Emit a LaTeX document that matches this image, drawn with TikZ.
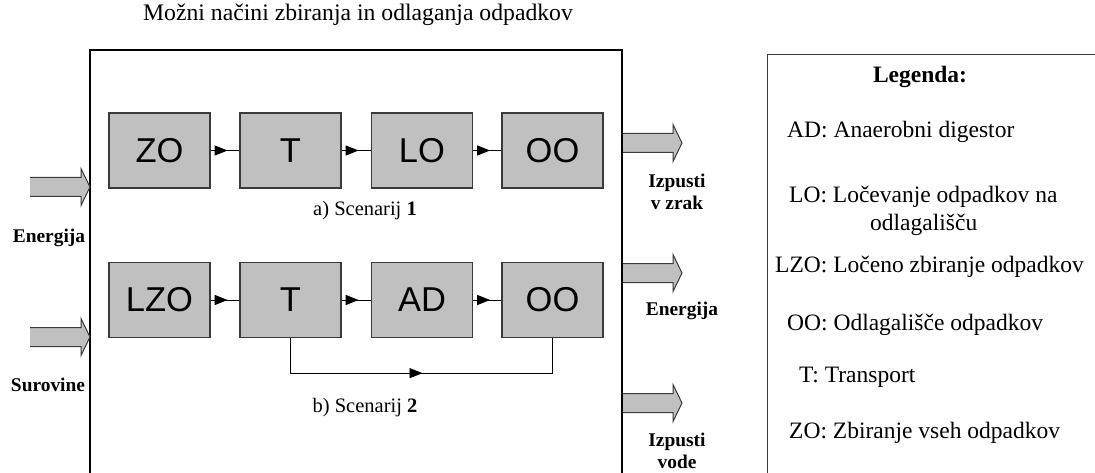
\documentclass[tikz,border=0pt]{standalone}
\usepackage{fontspec}
\setmainfont{Liberation Serif}
\setsansfont{Liberation Sans}
\usetikzlibrary{arrows.meta,decorations.markings}
\definecolor{boxgray}{HTML}{C0C0C0}
\definecolor{edgegray}{HTML}{3A3A3A}

% wide gray flow arrow: #1 left end x, #2 centre y, #3 tip x
\newcommand\flowarrow[3]{%
  \fill[boxgray] (#1,#2-9.5) -- (#3-9,#2-9.5) -- (#3-9,#2-18.5) -- (#3,#2)
    -- (#3-9,#2+18.5) -- (#3-9,#2+9.5) -- (#1,#2+9.5) -- cycle;
  \draw[edgegray, line width=1, line join=miter] (#1,#2-9.5) -- (#3-9,#2-9.5) -- (#3-9,#2-18.5) -- (#3,#2)
    -- (#3-9,#2+18.5) -- (#3-9,#2+9.5) -- (#1,#2+9.5);}

\tikzset{
  stage/.style={draw=edgegray, line width=1.3, fill=boxgray, minimum width=101,
    minimum height=75, inner sep=0, font=\sffamily\fontsize{34.5}{40}\selectfont},
  flow/.style={line width=1, postaction={decorate},
    decoration={markings, mark=at position 17pt with {\arrow{Triangle[length=13pt,width=10pt]}}}},
  bypass/.style={line width=0.8, postaction={decorate},
    decoration={markings, mark=at position 167pt with {\arrow{Triangle[length=13pt,width=10pt]}}}},
  iolabel/.style={font=\bfseries\fontsize{19.4}{22}\selectfont, align=center, inner sep=0},
  caption/.style={font=\fontsize{20.5}{24}\selectfont, inner sep=0},
  legtext/.style={font=\fontsize{23.5}{28}\selectfont, anchor=west, inner sep=0, align=left},
}

\begin{document}
\begin{tikzpicture}[x=1pt,y=-1pt]
  \useasboundingbox (0,0) rectangle (1095,473);
  \clip (0,0) rectangle (1095,473);

  % title and system boundary
  \node[font=\fontsize{23.7}{28}\selectfont, inner sep=0] (title) at (358,15)
    {Možni načini zbiranja in odlaganja odpadkov};
  \draw[line width=2] (90,490) -- (90,50) -- (622,50) -- (622,490);

  % scenario a
  \node[stage] (zo)  at (159.5,150.5) {ZO};
  \node[stage] (t1)  at (290.5,150.5) {T};
  \node[stage] (lo)  at (422,150.5)   {LO};
  \node[stage] (oo1) at (552.5,150.5) {OO};
  \draw[flow] (zo.east) -- (t1.west);
  \draw[flow] (t1.east) -- (lo.west);
  \draw[flow] (lo.east) -- (oo1.west);
  \node[caption] (capa) at (365,211) {a) Scenarij \textbf{1}};

  % scenario b
  \node[stage] (lzo) at (159.5,300) {LZO};
  \node[stage] (t2)  at (290.5,300) {T};
  \node[stage] (ad)  at (422,300)   {AD};
  \node[stage] (oo2) at (552.5,300) {OO};
  \draw[flow] (lzo.east) -- (t2.west);
  \draw[flow] (t2.east) -- (ad.west);
  \draw[flow] (ad.east) -- (oo2.west);
  \draw[bypass] (t2.south) -- ++(0,35) -| (oo2.south);
  \node[caption] (capb) at (365,408) {b) Scenarij \textbf{2}};

  % inputs
  \flowarrow{30}{187}{90}
  \flowarrow{30}{337}{90}
  \node[iolabel] (inen)  at (49,238) {Energija};
  \node[iolabel] (insur) at (48,385) {Surovine};

  % outputs
  \flowarrow{623}{143}{682}
  \flowarrow{623}{273}{682}
  \flowarrow{623}{403}{682}
  \node[iolabel] (outair) at (677,192) {Izpusti\\v zrak};
  \node[iolabel] (outen)  at (682,311) {Energija};
  \node[iolabel] (outwat) at (677,451) {Izpusti\\vode};

  % legend
  \draw[edgegray, line width=1] (767,490) -- (767,55) -- (1110,55);
  \node[font=\bfseries\fontsize{23.5}{28}\selectfont, inner sep=0] (leghead) at (920,77) {Legenda:};
  \node[legtext] (legad)  at (787,132) {AD: Anaerobni digestor};
  \node[legtext] (leglo)  at (789,197) {LO: Ločevanje odpadkov na};
  \node[legtext] (leglo2) at (870,225) {odlagališču};
  \node[legtext] (leglzo) at (775,267) {LZO: Ločeno zbiranje odpadkov};
  \node[legtext] (legoo)  at (787,325) {OO: Odlagališče odpadkov};
  \node[legtext] (legt)   at (799,377) {T: Transport};
  \node[legtext] (legzo)  at (789,433) {ZO: Zbiranje vseh odpadkov};
\end{tikzpicture}
\end{document}
